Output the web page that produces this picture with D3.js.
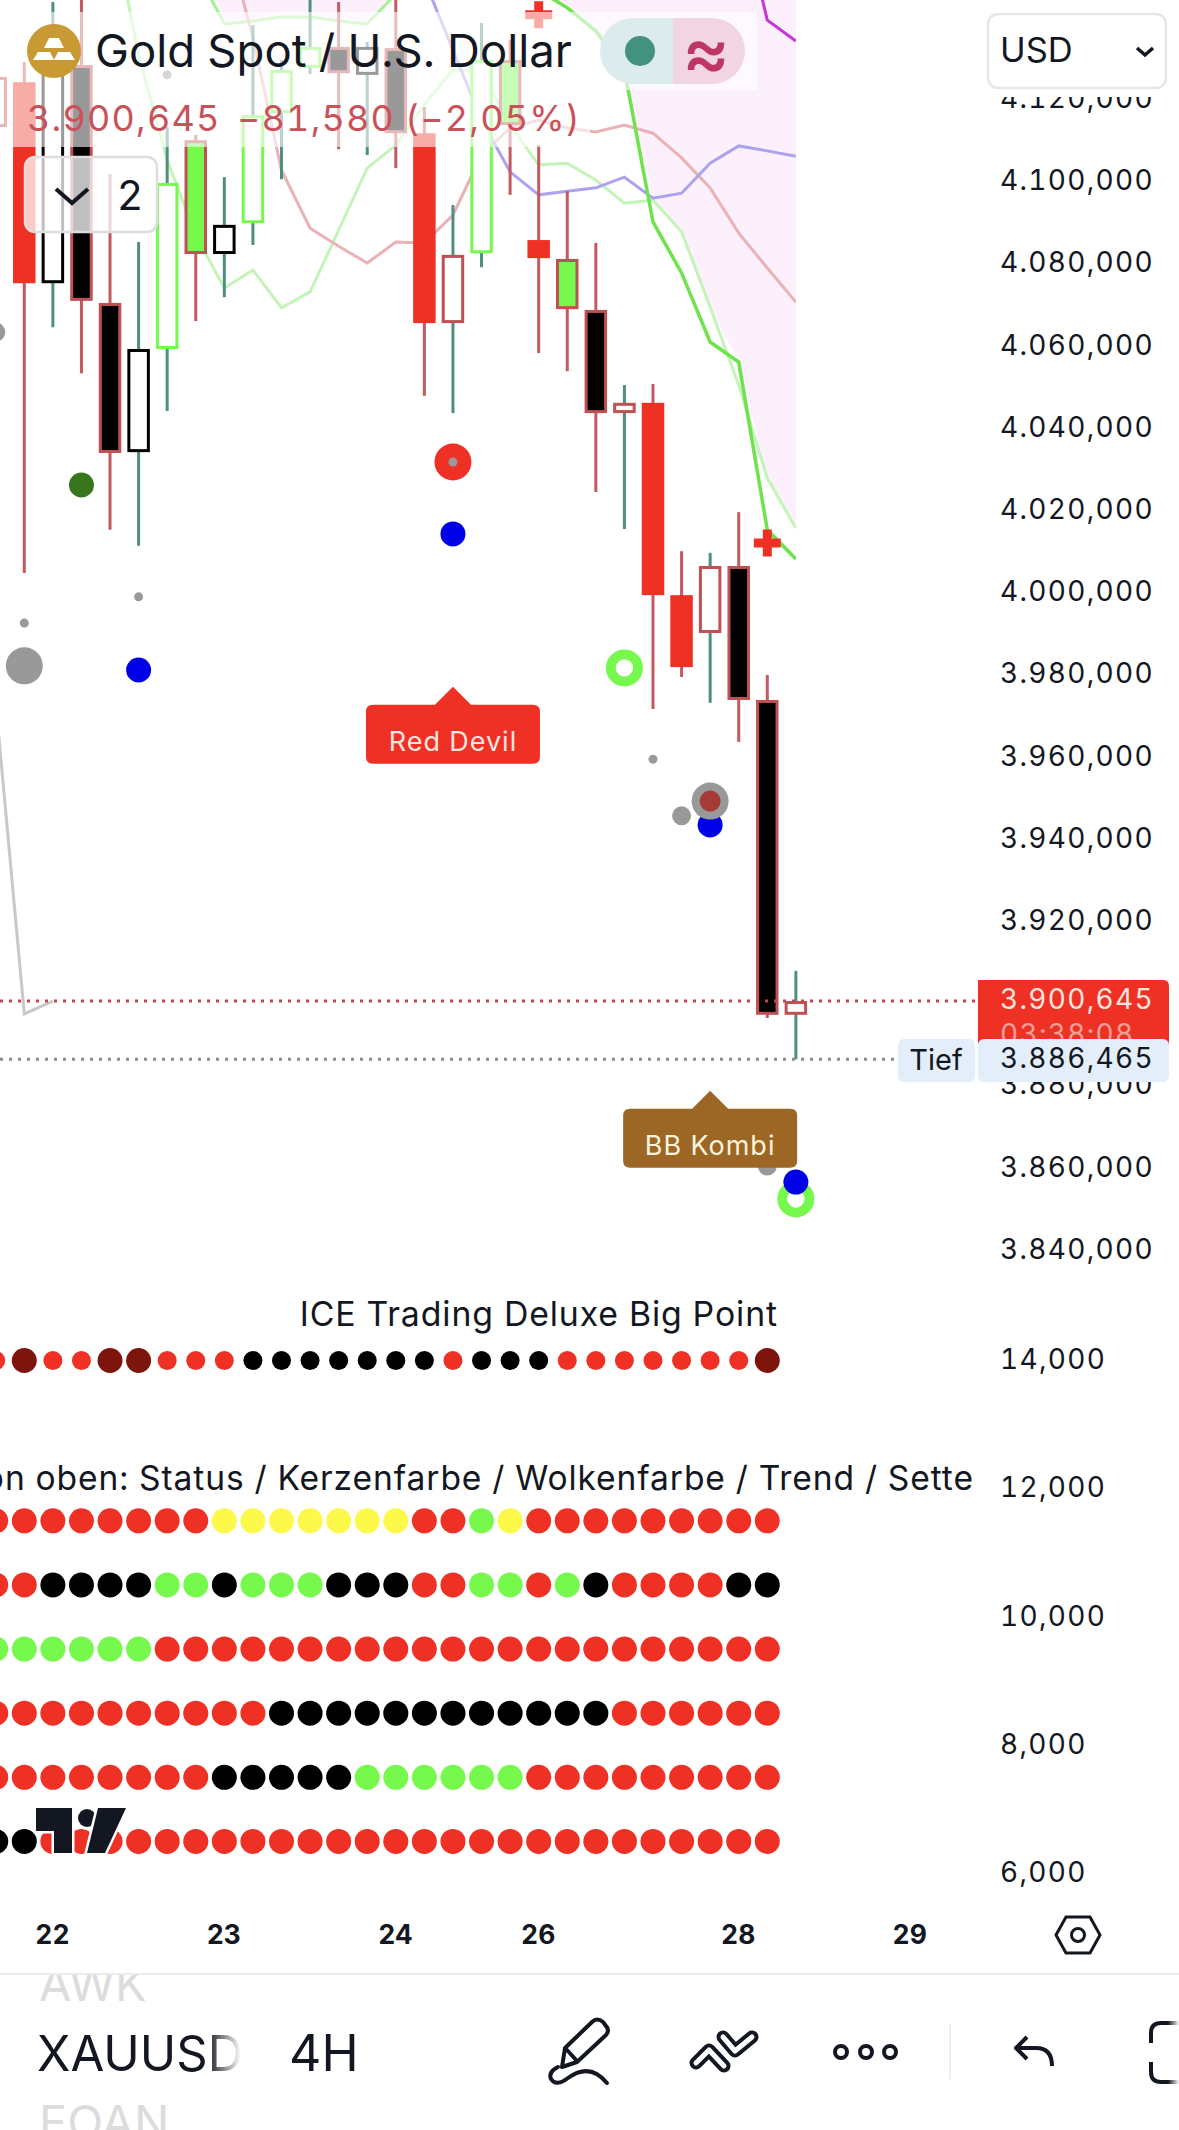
<!DOCTYPE html>
<html><head><meta charset="utf-8">
<script src="https://cdn.jsdelivr.net/npm/d3@7/dist/d3.min.js"></script>
<style>html,body{margin:0;padding:0;background:#fff}svg{display:block}text{font-family:Inter,"Noto Sans",sans-serif;font-feature-settings:"tnum"}</style>
</head><body><svg id="c" width="1179" height="2130"></svg>
<script>
// ---- price pane data (candle index -1 .. 27)
const candleIndex=[-1,0,1,2,3,4,5,6,7,8,9,10,11,12,13,14,15,16,17,18,19,20,21,22,23,24,25,26,27];
const candleHigh=[4145.4,4129.1,4143.7,4145.4,4101.9,4085.3,4113.3,4111.4,4101.1,4138.1,4129.6,4145.4,4143.7,4134.0,4145.4,4118.2,4094.3,4138.6,4134.5,4108.9,4097.7,4085.1,4050.5,4050.8,4010.1,4009.7,4019.6,3980.0,3908.0];
const candleTop=[4125.5,4124.2,4129.6,4128.4,4070.5,4059.3,4099.7,4110.1,4089.5,4116.2,4127.2,4132.8,4132.8,4132.8,4132.5,4111.8,4082.2,4129.6,4129.6,4085.8,4081.2,4068.8,4046.2,4046.2,3999.4,4006.5,4006.5,3973.9,3900.645];
const candleBottom=[4113.3,4075.3,4075.3,4071.0,4034.0,4034.2,4059.3,4082.4,4082.4,4089.9,4116.7,4127.7,4126.4,4126.0,4111.8,4065.6,4065.6,4082.6,4113.8,4081.4,4069.0,4043.7,4043.7,3999.4,3981.9,3990.2,3973.9,3897.3,3897.3];
const candleLow=[4095.5,4004.8,4064.6,4053.4,4015.3,4011.4,4044.2,4066.1,4071.9,4084.6,4100.6,4126.2,4107.9,4106.5,4103.3,4047.9,4043.7,4079.2,4096.8,4058.3,4053.9,4024.5,4015.5,3971.7,3979.5,3973.2,3963.7,3896.5,3886.465];
const candleFill="WRWKKWWGWWWWKWKRWWGRGKWRRWKKW".split("");
const candleEdge="RRKRRKGRKGGGRKRRRGRRRRRRRRRRR".split("");
const candleWick="RRTRRTTRTTTTRTRRTTRRRRTRRTRRT".split("");

// ---- indicator lines: [index, value]
const thickGreenIdx=[18,19,20,21,22,23,24,25,26,27];
const thickGreenVal=[4146.6,4142.3,4136.7,4127.2,4090.2,4077.8,4061.0,4056.1,4015.3,4008.2];
const paleGreenIdx=[3,4,5,6,7,8,9,10,11,12,13,14,15,16,17,18,19,20,21,22,23,24,25,26,27];
const paleGreenVal=[4166.1,4130.8,4105.3,4087.0,4074.1,4078.5,4069.3,4073.2,4088.2,4103.3,4108.9,4118.7,4127.2,4126.7,4113.8,4104.1,4104.5,4100.4,4094.8,4095.5,4087.8,4069.5,4050.5,4027.9,4015.7];
const cloudLineIdx=[6,7,8,9,10,11,12,13];
const cloudLineVal=[4151.5,4138.4,4139.1,4140.1,4140.1,4139.1,4138.4,4145.7];
const cloudCeiling=4175;
const pinkIdx=[7,8,9,10,11,12,13,14,15,16,17,18,19,20,21,22,23,24,25,26,27];
const pinkVal=[4161.2,4135.2,4102.8,4088.7,4084.3,4080.2,4085.3,4085.1,4091.9,4106.5,4113.1,4115.0,4113.1,4112.1,4113.8,4111.8,4105.8,4098.5,4087.5,4079.0,4070.7];
const blueIdx=[14,15,16,17,18,19,20,21,22,23,24,25,26,27];
const blueVal=[4149.1,4132.0,4115.0,4102.4,4096.8,4097.7,4098.5,4101.1,4096.0,4097.2,4104.5,4108.7,4107.5,4106.2];
const magentaIdx=[25,26,27];
const magentaVal=[4168.5,4139.3,4134.2];
const grayIdx=[-1,0,1];
const grayVal=[3973.2,3897.5,3900.6];

// ---- markers
const markerIdx=[-1,5,0,0,4,4,2,15,15,15,21,22,24,24,23,24,26,27,27];
const markerVal=[4063.4,4126.0,3982.2,3992.6,3999.0,3981.2,4026.2,4031.8,4031.8,4014.3,3981.7,3959.5,3943.5,3949.3,3945.7,3949.3,3860.5,3852.5,3856.6];
const markerKind=["m","s","b","s","s","u","d","e","s","u","o","s","u","b","m","i","m","o","u"];
const crossIdx=[18,26];
const crossVal=[4140.6,4012.1];

const priceTicks=[4120,4100,4080,4060,4040,4020,4000,3980,3960,3940,3920,3900,3880,3860,3840];
const lastPrice=3900.645, lowPrice=3886.465;

// ---- lower pane
const paneTicks=[14,12,10,8,6];
const dotIndex=[-1,0,1,2,3,4,5,6,7,8,9,10,11,12,13,14,15,16,17,18,19,20,21,22,23,24,25,26];
const iceRow="rDrrDDrrrkkkkkkkrkkkrrrrrrrD";
const statusRow="rrrrrrrryyyyyyyrrgyrrrrrrrrr";
const candleRow="rrkkkkggkgggkkkrrggrgkrrrrkk";
const cloudRow="ggggggrrrrrrrrrrrrrrrrrrrrrr";
const trendRow="rrrrrrrrrrkkkkkkkkkkkkrrrrrr";
const setterRow="rrrrrrrrkkkkkggggggrrrrrrrrr";
const lastRow="kkrrrrrrrrrrrrrrrrrrrrrrrrrr";
const iceLevel=14;
const rowLevels=[11.5,10.5,9.5,8.5,7.5,6.5];

// ---- time axis
const timeTicks=[1,7,13,18,25,31];
const timeLabels=["22","23","24","26","28","29"];

const RED="#ee3124",GREEN="#76f94c",EDGE_R="#bf5053",TEAL="#4f8f82";
const fillMap={R:RED,G:GREEN,K:"#000",W:"#fff"};
const edgeMap={R:EDGE_R,G:GREEN,K:"#000"};
const wickMap={R:"#c25a60",T:TEAL};
const dotMap={r:RED,g:"#76f94c",k:"#000",y:"#fdf94a",D:"#7e150c"};

const svg=d3.select("#c");
const defs=svg.append("defs");
defs.append("clipPath").attr("id","pp").append("rect").attr("x",0).attr("y",0).attr("width",975).attr("height",1276);
defs.append("clipPath").attr("id","lp").append("rect").attr("x",0).attr("y",1276).attr("width",975).attr("height",620);
defs.append("clipPath").attr("id","cl").append("rect").attr("x",0).attr("y",0).attr("width",796).attr("height",1276);
const fg=defs.append("linearGradient").attr("id","fade");
fg.append("stop").attr("offset",0).attr("stop-color","#fff").attr("stop-opacity",0);
fg.append("stop").attr("offset",1).attr("stop-color","#fff").attr("stop-opacity",1);

const x=d3.scaleLinear().domain([0,26]).range([24.3,767.3]);
const y=d3.scaleLinear().domain([3840,4100]).range([1250.3,181.7]);
const yL=d3.scaleLinear().domain([6,14]).range([1873.5,1360.5]);
const loc=d3.formatLocale({decimal:",",thousands:".",grouping:[3],currency:["",""]});
const fmt=loc.format(",.3f");

const pts=(a,b)=>a.map((d,i)=>({i:d,v:b[i]}));
const plot=svg.append("g").attr("clip-path","url(#pp)");
const clouds=plot.append("g").attr("clip-path","url(#cl)");

// cloud
const cloudColor="#fdf0fd";
clouds.append("path").datum(pts(cloudLineIdx,cloudLineVal))
 .attr("fill",cloudColor)
 .attr("d",d3.area().x(d=>x(d.i)).y0(y(cloudCeiling)).y1(d=>y(d.v)));
const pale=new Map(paleGreenIdx.map((d,i)=>[d,paleGreenVal[i]]));
clouds.append("path").datum(pts(thickGreenIdx,thickGreenVal))
 .attr("fill",cloudColor)
 .attr("d",d3.area().x(d=>x(d.i)).y0(y(cloudCeiling)).y1(d=>y(Math.max(d.v,pale.get(d.i)))));

// lines
const line=d3.line().x(d=>x(d.i)).y(d=>y(d.v));
[[grayIdx,grayVal,"#c8c8c8",3],[paleGreenIdx,paleGreenVal,"#c4f4b8",3],[cloudLineIdx,cloudLineVal,"#a6f291",3],
 [pinkIdx,pinkVal,"#eab2b4",3],[blueIdx,blueVal,"#aba3f0",3],[magentaIdx,magentaVal,"#c934d6",3],[thickGreenIdx,thickGreenVal,"#6fe24d",3.5]]
 .forEach(([a,b,c,w])=>clouds.append("path").datum(pts(a,b)).attr("fill","none").attr("stroke",c).attr("stroke-width",w).attr("d",line));

// candles
const cd=candleIndex.map((d,k)=>({i:d,h:candleHigh[k],t:candleTop[k],b:candleBottom[k],l:candleLow[k],f:candleFill[k],e:candleEdge[k],w:candleWick[k]}));
const BW=22.5,SW=3;
const cg=plot.append("g").selectAll("g").data(cd).join("g");
cg.append("line").attr("x1",d=>x(d.i)).attr("x2",d=>x(d.i)).attr("y1",d=>y(d.h)).attr("y2",d=>y(d.l))
 .attr("stroke",d=>wickMap[d.w]).attr("stroke-width",3);
cg.append("rect").attr("x",d=>x(d.i)-BW/2+SW/2).attr("width",BW-SW)
 .attr("y",d=>y(d.t)+SW/2).attr("height",d=>Math.max(1,y(d.b)-y(d.t)-SW))
 .attr("fill",d=>fillMap[d.f]).attr("stroke",d=>d.f==="R"?RED:edgeMap[d.e]).attr("stroke-width",SW);

// dotted price lines
plot.append("line").attr("x1",0).attr("x2",976).attr("y1",y(lastPrice)).attr("y2",y(lastPrice))
 .attr("stroke","#c0484a").attr("stroke-width",3).attr("stroke-dasharray","3 6");
plot.append("line").attr("x1",0).attr("x2",898).attr("y1",y(lowPrice)).attr("y2",y(lowPrice))
 .attr("stroke","#8a8a8a").attr("stroke-width",3).attr("stroke-dasharray","3 6");

// markers
const mk=markerIdx.map((d,k)=>({i:d,v:markerVal[k],k:markerKind[k]}));
const style={m:{r:9.5,f:"#999"},s:{r:4.5,f:"#999"},b:{r:18.5,f:"#999"},u:{r:12.5,f:"#0000e6"},d:{r:12.5,f:"#38761d"},e:{r:18.5,f:RED},i:{r:10.5,f:"#a53a36"},o:{r:13.6,f:"none",st:GREEN,sw:9.8}};
plot.append("g").selectAll("circle").data(mk).join("circle")
 .attr("cx",d=>x(d.i)).attr("cy",d=>y(d.v)).attr("r",d=>style[d.k].r)
 .attr("fill",d=>style[d.k].f==="none"?"#fff":style[d.k].f).attr("stroke",d=>style[d.k].st||"none").attr("stroke-width",d=>style[d.k].sw||0);
// crosses
plot.append("g").selectAll("path").data(pts(crossIdx,crossVal)).join("path")
 .attr("fill",RED)
 .attr("d","M-4.5-13.5h9v9h9v9h-9v9h-9v-9h-9v-9h9z").attr("transform",d=>`translate(${x(d.i)},${y(d.v)})`);

// signal labels
function signal(i,v,fill,txt,tc,w){
  const g=plot.append("g").attr("transform",`translate(${x(i)},${y(v)})`);
  g.append("path").attr("fill",fill).attr("d",`M0 0L18 18H${w/2-7}Q${w/2} 18 ${w/2} 25V70Q${w/2} 77 ${w/2-7} 77H${-w/2+7}Q${-w/2} 77 ${-w/2} 70V25Q${-w/2} 18 ${-w/2+7} 18H-18Z`);
  g.append("text").attr("y",54).attr("dy",".36em").attr("text-anchor","middle").attr("fill",tc).attr("font-size",27).attr("letter-spacing",1).text(txt);
}
const signalDefs=[[15,3977.1,RED,"Red Devil","#fbe3df",174],[24,3878.8,"#9c6624","BB Kombi","#fdf3dc",174]];
signalDefs.forEach(s=>signal(...s));

// lower pane
const lower=svg.append("g").attr("clip-path","url(#lp)");
lower.append("text").attr("x",778).attr("y",1314).attr("dy",".36em").attr("text-anchor","end").attr("font-size",33.8).attr("letter-spacing",.9).attr("fill","#131722").text("ICE Trading Deluxe Big Point");
lower.append("text").attr("x",-38.5).attr("y",1478).attr("dy",".36em").attr("font-size",33.6).attr("letter-spacing",.9).attr("fill","#131722").text("Von oben: Status / Kerzenfarbe / Wolkenfarbe / Trend / Setter");
lower.append("g").selectAll("circle").data(dotIndex.map((d,k)=>({i:d,c:iceRow[k]}))).join("circle")
 .attr("cx",d=>x(d.i)).attr("cy",yL(iceLevel)).attr("r",d=>d.c==="D"?12.5:9.5).attr("fill",d=>dotMap[d.c]);
[statusRow,candleRow,cloudRow,trendRow,setterRow,lastRow].forEach((row,r)=>{
  lower.append("g").selectAll("circle").data(dotIndex.map((d,k)=>({i:d,c:row[k]}))).join("circle")
   .attr("cx",d=>x(d.i)).attr("cy",yL(rowLevels[r])).attr("r",12.5).attr("fill",d=>dotMap[d.c]);
});
// TV logo
const logo=svg.append("g").attr("fill","#131722").attr("stroke","#fff").attr("stroke-width",5).attr("paint-order","stroke");
logo.append("path").attr("d","M36 1808H72V1853H54V1831H36Z");
logo.append("circle").attr("cx",87).attr("cy",1818).attr("r",9);
logo.append("path").attr("d","M98 1808H126L105 1853H87Z");

// header washes
svg.append("rect").attr("x",0).attr("y",12).attr("width",757).attr("height",78).attr("fill","#fff").attr("opacity",.6);
svg.append("rect").attr("x",0).attr("y",90).attr("width",590).attr("height",57).attr("fill","#fff").attr("opacity",.6);
// gold icon
svg.append("circle").attr("cx",54).attr("cy",51).attr("r",27).attr("fill","#c99a34");
svg.append("path").attr("fill","#fff").attr("d","M49 38H59L64 48H44ZM38 52H50L54 60H33ZM58 52H70L75 60H54Z");
svg.append("text").attr("x",95).attr("y",51).attr("dy",".36em").attr("font-size",45.5).attr("fill","#131722").text("Gold Spot / U.S. Dollar");
const vt=[["3.900,645",27],["−81,580",237],["(−2,05%)",405]];
vt.forEach(([t,px])=>svg.append("text").attr("x",px).attr("y",118).attr("dy",".36em").attr("font-size",36).attr("letter-spacing",1.2).attr("fill","#c9525a").text(t));
// pill
svg.append("path").attr("fill","#dcebeb").attr("d","M673 18H633A33 33 0 0 0 633 84H673Z");
svg.append("path").attr("fill","#f2d5e2").attr("d","M673 18H712A33 33 0 0 1 712 84H673Z");
svg.append("circle").attr("cx",640).attr("cy",51).attr("r",15).attr("fill","#43917f");
svg.append("text").attr("x",706).attr("y",51).attr("dy",".36em").attr("text-anchor","middle").attr("font-size",72).attr("font-weight",500).attr("fill","#bf3564").text("≈");
// interval box
svg.append("rect").attr("x",25).attr("y",157).attr("width",132).attr("height",75).attr("rx",10).attr("fill","#fff").attr("fill-opacity",.75).attr("stroke","#dedede").attr("stroke-width",2.5);
svg.append("path").attr("d","M56 189L72 203L88 189").attr("fill","none").attr("stroke","#131722").attr("stroke-width",4);
svg.append("text").attr("x",130).attr("y",195).attr("dy",".36em").attr("text-anchor","middle").attr("font-size",41).attr("fill","#131722").text("2");

// right axes
const priceAxis=svg.append("g").attr("transform","translate(1000,-2)")
 .call(d3.axisRight(y).tickValues(priceTicks).tickSize(0).tickPadding(0).tickFormat(fmt));
const paneAxis=svg.append("g").attr("transform","translate(1000,-2)")
 .call(d3.axisRight(yL).tickValues(paneTicks).tickSize(0).tickPadding(0).tickFormat(fmt));
const AF=28,AS=1.3;
[priceAxis,paneAxis].forEach(a=>{a.select(".domain").remove();
 a.selectAll("text").attr("dy",".36em").attr("font-size",AF).attr("letter-spacing",AS).attr("font-family",'Inter,sans-serif').attr("fill","#131722");});
svg.append("rect").attr("x",976).attr("y",0).attr("width",203).attr("height",97).attr("fill","#fff");
svg.append("rect").attr("x",988).attr("y",14).attr("width",178).attr("height",74).attr("rx",10).attr("fill","#fff").attr("stroke","#e6e6e6").attr("stroke-width",2.5);
svg.append("text").attr("x",1000).attr("y",50).attr("dy",".36em").attr("font-size",34.5).attr("fill","#131722").text("USD");
svg.append("path").attr("d","M1137 48L1145 55L1153 48").attr("fill","none").attr("stroke","#131722").attr("stroke-width",3.5);

// price tags
svg.append("path").attr("fill",RED).attr("d",`M978 1044V980H1163Q1169 980 1169 986V1044Z`);
svg.append("text").attr("x",1000).attr("y",999).attr("dy",".36em").attr("font-size",AF).attr("letter-spacing",AS).attr("fill","#fde4df").text(fmt(lastPrice));
svg.append("text").attr("x",1000).attr("y",1034).attr("dy",".36em").attr("font-size",AF).attr("letter-spacing",AS).attr("fill","#f79e97").text("03:38:08");
svg.append("rect").attr("x",898).attr("y",1039).attr("width",77).attr("height",43).attr("rx",6).attr("fill","#e3eefa");
svg.append("rect").attr("x",978).attr("y",1039).attr("width",191).attr("height",43).attr("rx",6).attr("fill","#e3eefa");
svg.append("text").attr("x",936).attr("y",1060).attr("dy",".36em").attr("text-anchor","middle").attr("font-size",29).attr("fill","#131722").text("Tief");
svg.append("text").attr("x",1000).attr("y",1058).attr("dy",".36em").attr("font-size",AF).attr("letter-spacing",AS).attr("fill","#131722").text(fmt(lowPrice));

// time axis
const xAxis=svg.append("g").attr("transform","translate(-1,1934)")
 .call(d3.axisBottom(x).tickValues(timeTicks).tickSize(0).tickPadding(0).tickFormat((d,k)=>timeLabels[k]));
xAxis.select(".domain").remove();
xAxis.selectAll("text").attr("dy",".36em").attr("font-size",26.5).attr("font-weight",700).attr("font-family",'Inter,sans-serif').attr("fill","#131722");
// hexagon
svg.append("path").attr("d","M1056 1935L1066 1917H1090L1100 1935L1090 1953H1066Z").attr("fill","none").attr("stroke","#131722").attr("stroke-width",3);
svg.append("circle").attr("cx",1078).attr("cy",1935).attr("r",6.5).attr("fill","none").attr("stroke","#131722").attr("stroke-width",3);

// toolbar
svg.append("line").attr("x1",0).attr("x2",1179).attr("y1",1974).attr("y2",1974).attr("stroke","#ebebeb").attr("stroke-width",2);
defs.append("clipPath").attr("id","tb").append("rect").attr("x",0).attr("y",1975).attr("width",1179).attr("height",155);
const tb=svg.append("g").attr("clip-path","url(#tb)");
tb.append("text").attr("x",39).attr("y",1984).attr("dy",".36em").attr("font-size",47).attr("fill","#dcdcdc").text("AWK");
tb.append("text").attr("x",39).attr("y",2122).attr("dy",".36em").attr("font-size",47).attr("fill","#dcdcdc").text("EOAN");
tb.append("text").attr("x",37).attr("y",2053).attr("dy",".36em").attr("font-size",49).attr("fill","#131722").text("XAUUSD");
tb.append("rect").attr("x",207).attr("y",2025).attr("width",34).attr("height",60).attr("fill","url(#fade)");
tb.append("rect").attr("x",241).attr("y",2025).attr("width",30).attr("height",60).attr("fill","#fff");
tb.append("text").attr("x",289).attr("y",2053).attr("dy",".36em").attr("font-size",50).attr("fill","#131722").text("4H");
const ic=tb.append("g").attr("fill","none").attr("stroke","#131722").attr("stroke-width",4).attr("stroke-linecap","round").attr("stroke-linejoin","round");
ic.append("path").attr("d","M565 2048L592 2022Q597 2017 603 2022L606 2026Q610 2030 606 2035L577 2062L562 2067ZM567 2050L577 2061");
ic.append("path").attr("d","M558 2067Q548 2072 551 2079Q556 2087 568 2078Q590 2062 607 2083");
ic.append("path").attr("stroke-width",13).attr("d","M696 2063L709 2050L724 2066M723 2037L735 2051L752 2037");
ic.append("path").attr("stroke","#fff").attr("stroke-width",5).attr("d","M696 2063L709 2050L724 2066M723 2037L735 2051L752 2037");
ic.selectAll("circle").data([841,866,890]).join("circle").attr("cx",d=>d).attr("cy",2052).attr("r",6);
tb.append("line").attr("x1",950).attr("x2",950).attr("y1",2024).attr("y2",2079).attr("stroke","#e8e8e8").attr("stroke-width",1.5);
ic.append("path").attr("d","M1027 2037L1016 2048L1027 2059M1016 2048H1036Q1052 2048 1052 2066").attr("stroke-linecap","butt");
ic.append("path").attr("d","M1151 2043V2033Q1151 2023 1161 2023H1179M1151 2062V2072Q1151 2082 1161 2082H1179").attr("stroke-linecap","butt");
tb.append("rect").attr("x",1168).attr("y",2018).attr("width",11).attr("height",70).attr("fill","url(#fade)");
</script></body></html>
